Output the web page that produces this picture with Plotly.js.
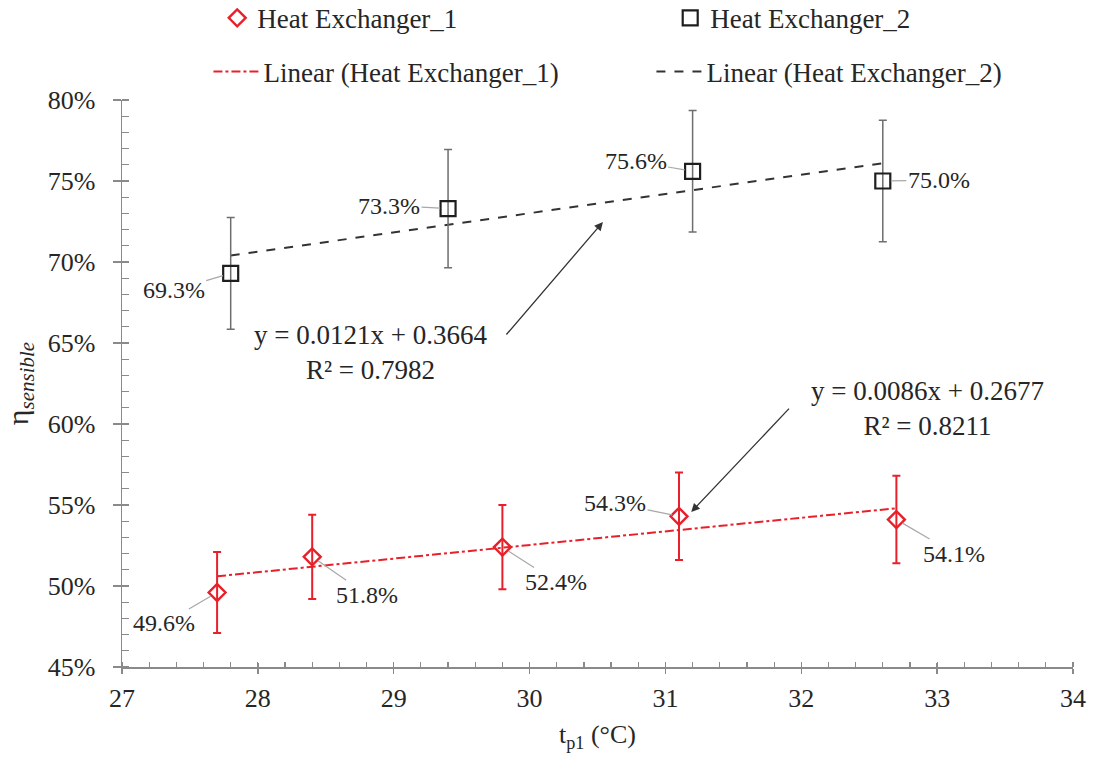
<!DOCTYPE html>
<html>
<head>
<meta charset="utf-8">
<script src="https://cdn.plot.ly/plotly-3.0.1.min.js"></script>
<style>html,body{margin:0;padding:0;background:#fff;}#chart{width:1097px;height:762px;}</style>
</head>
<body>
<div id="chart"></div>
<script>
// ---- data ----
const xHE1 = [27.7, 28.4, 29.8, 31.1, 32.7];
const yHE1 = [0.496, 0.518, 0.524, 0.543, 0.541];
const errHE1 = [0.025, 0.026, 0.026, 0.027, 0.027];

const xHE2 = [27.8, 29.4, 31.2, 32.6];
const yHE2 = [0.693, 0.733, 0.756, 0.750];
const errHE2 = [0.0345, 0.0365, 0.0375, 0.0375];

// trendline endpoints as drawn
const trendX1 = [27.7, 32.7];
const trendY1 = [0.506, 0.548];
const trendX2 = [27.8, 32.6];
const trendY2 = [0.704, 0.761];

const seriesNames = ['Heat Exchanger_1', 'Heat Exchanger_2'];
const trendNames = ['Linear (Heat Exchanger_1)', 'Linear (Heat Exchanger_2)'];
const eqText1 = 'y = 0.0086x + 0.2677<br>R² = 0.8211';
const eqText2 = 'y = 0.0121x + 0.3664<br>R² = 0.7982';

const xTickVals = [27, 28, 29, 30, 31, 32, 33, 34];
const yTickVals = [0.45, 0.50, 0.55, 0.60, 0.65, 0.70, 0.75, 0.80];

// ---- styling ----
const FONT = 'Liberation Serif, Times New Roman, serif';
const RED = '#e8202a';
const DARK = '#1e1e1e';
const AXC = '#8a8a8a';
const TXT = '#262626';

// label offsets (pixels from point to label centre)
const offHE1 = [[-53, 31], [55, 38], [54, 35], [-64, -13], [58, 34]];
const offHE2 = [[-57, 17], [-59, -3], [-57, -10], [56, -1]];

const traces = [
  {x: trendX1, y: trendY1, mode: 'lines', name: trendNames[0], legend: 'legend2',
   line: {color: RED, width: 2, dash: 'dashdot'}, hoverinfo: 'skip'},
  {x: trendX2, y: trendY2, mode: 'lines', name: trendNames[1], legend: 'legend2',
   line: {color: '#333333', width: 2, dash: 'dash'}, hoverinfo: 'skip'},
  {x: xHE1, y: yHE1, mode: 'markers', name: seriesNames[0], legend: 'legend',
   marker: {symbol: 'diamond-open', size: 13, color: RED, line: {width: 2.4, color: RED}},
   error_y: {type: 'data', array: errHE1, visible: true, color: RED, thickness: 2, width: 4}},
  {x: xHE2, y: yHE2, mode: 'markers', name: seriesNames[1], legend: 'legend',
   marker: {symbol: 'square-open', size: 15, color: DARK, line: {width: 2.2, color: DARK}},
   error_y: {type: 'data', array: errHE2, visible: true, color: '#6e6e6e', thickness: 1.5, width: 4}},
  // helper trace so the overlay axes (inner half of the major ticks) get drawn
  {x: [], y: [], xaxis: 'x2', yaxis: 'y2', showlegend: false, hoverinfo: 'skip', mode: 'markers'}
];

const annotations = [];
const lbl = v => (v * 100).toFixed(1) + '%';
xHE1.forEach((x, i) => annotations.push({
  x: x, y: yHE1[i], text: lbl(yHE1[i]), ax: offHE1[i][0], ay: offHE1[i][1],
  showarrow: true, arrowhead: 0, arrowwidth: 1.2, arrowcolor: '#a8a8a8', standoff: 7,
  font: {family: FONT, size: 24, color: TXT}
}));
xHE2.forEach((x, i) => annotations.push({
  x: x, y: yHE2[i], text: lbl(yHE2[i]), ax: offHE2[i][0], ay: offHE2[i][1],
  showarrow: true, arrowhead: 0, arrowwidth: 1.2, arrowcolor: '#a8a8a8', standoff: 8,
  font: {family: FONT, size: 24, color: TXT}
}));
// trendline equations
annotations.push({x: 32.926, y: 0.6098, text: eqText1, showarrow: false,
  font: {family: FONT, size: 27, color: TXT}, align: 'center'});
annotations.push({x: 28.827, y: 0.6444, text: eqText2, showarrow: false,
  font: {family: FONT, size: 27, color: TXT}, align: 'center'});
// arrows
annotations.push({x: 31.19, y: 0.5457, ax: 31.92, ay: 0.6104, axref: 'x', ayref: 'y', text: '',
  showarrow: true, arrowhead: 2, arrowsize: 1.3, arrowwidth: 1.3, arrowcolor: '#333333'});
annotations.push({x: 30.54, y: 0.7247, ax: 29.82, ay: 0.6543, axref: 'x', ayref: 'y', text: '',
  showarrow: true, arrowhead: 2, arrowsize: 1.3, arrowwidth: 1.3, arrowcolor: '#333333'});

const baseAxis = {showgrid: false, zeroline: false, fixedrange: true};

const layout = {
  width: 1097, height: 762,
  paper_bgcolor: '#ffffff', plot_bgcolor: '#ffffff',
  margin: {l: 122, r: 24, t: 100, b: 95},
  font: {family: FONT, color: TXT},
  showlegend: true,
  xaxis: Object.assign({}, baseAxis, {
    range: [27, 34], tickvals: xTickVals, ticktext: xTickVals.map(String),
    showline: true, linecolor: AXC, linewidth: 1.5,
    ticks: 'outside', ticklen: 5, tickwidth: 1.5, tickcolor: AXC,
    minor: {dtick: 0.2, tick0: 27, ticks: 'inside', ticklen: 5, tickwidth: 1.2, tickcolor: AXC, showgrid: false},
    tickfont: {family: FONT, size: 26, color: TXT}, ticklabelstandoff: 2,
    title: {text: 't<sub>p1</sub> (°C)', font: {family: FONT, size: 26, color: TXT}, standoff: 13}
  }),
  yaxis: Object.assign({}, baseAxis, {
    range: [0.45, 0.80], tickvals: yTickVals, tickformat: '.0%',
    showline: true, linecolor: AXC, linewidth: 1.5,
    ticks: 'outside', ticklen: 8, tickwidth: 1.5, tickcolor: AXC,
    minor: {dtick: 0.01, tick0: 0.45, ticks: 'inside', ticklen: 7, tickwidth: 1.2, tickcolor: AXC, showgrid: false},
    tickfont: {family: FONT, size: 26, color: TXT}, ticklabelstandoff: 12,
    title: {text: 'η<sub><i>sensible</i></sub>', font: {family: FONT, size: 30, color: TXT}, standoff: 10}
  }),
  xaxis2: Object.assign({}, baseAxis, {
    range: [27, 34], tickvals: xTickVals, overlaying: 'x', anchor: 'y', side: 'bottom',
    showline: false, showticklabels: false, ticks: 'inside', ticklen: 4, tickwidth: 1.5, tickcolor: AXC
  }),
  yaxis2: Object.assign({}, baseAxis, {
    range: [0.45, 0.80], tickvals: yTickVals, overlaying: 'y', anchor: 'x', side: 'left',
    showline: false, showticklabels: false, ticks: 'inside', ticklen: 7, tickwidth: 1.5, tickcolor: AXC
  }),
  legend: {
    orientation: 'h', xref: 'container', yref: 'container',
    x: 0.198, xanchor: 'left', y: 0.976, yanchor: 'middle',
    entrywidth: 408, entrywidthmode: 'pixels', itemwidth: 30,
    font: {family: FONT, size: 27, color: TXT}, bgcolor: 'rgba(0,0,0,0)', traceorder: 'normal'
  },
  legend2: {
    orientation: 'h', xref: 'container', yref: 'container',
    x: 0.19, xanchor: 'left', y: 0.9055, yanchor: 'middle',
    entrywidth: 383, entrywidthmode: 'pixels', itemwidth: 45,
    font: {family: FONT, size: 27, color: TXT}, bgcolor: 'rgba(0,0,0,0)', traceorder: 'normal'
  },
  annotations: annotations
};

Plotly.newPlot('chart', traces, layout, {displayModeBar: false, staticPlot: true});
</script>
</body>
</html>
